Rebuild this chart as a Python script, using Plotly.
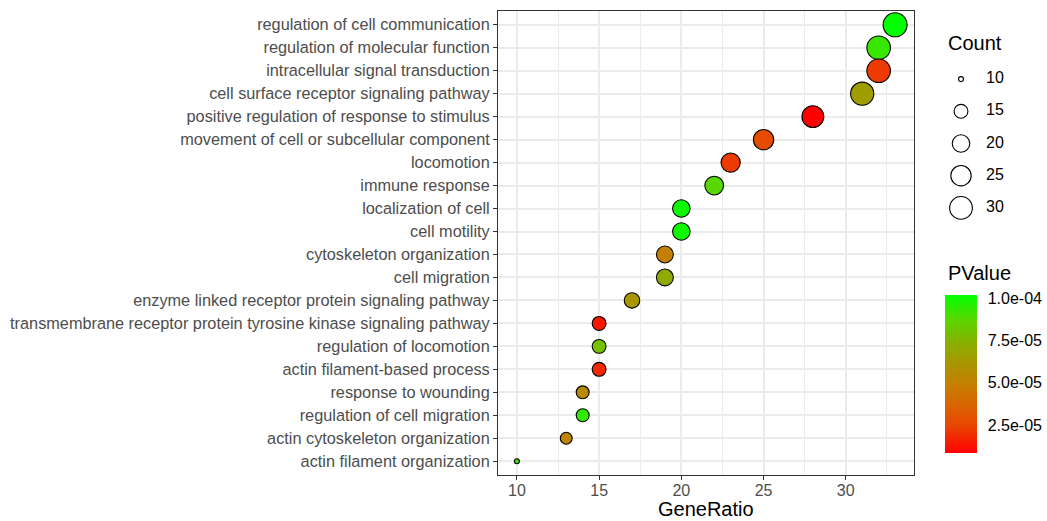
import numpy as np
import plotly.graph_objects as go

W, H = 1047, 521

# GO terms, listed from top row to bottom row
terms = [
    "regulation of cell communication",
    "regulation of molecular function",
    "intracellular signal transduction",
    "cell surface receptor signaling pathway",
    "positive regulation of response to stimulus",
    "movement of cell or subcellular component",
    "locomotion",
    "immune response",
    "localization of cell",
    "cell motility",
    "cytoskeleton organization",
    "cell migration",
    "enzyme linked receptor protein signaling pathway",
    "transmembrane receptor protein tyrosine kinase signaling pathway",
    "regulation of locomotion",
    "actin filament-based process",
    "response to wounding",
    "regulation of cell migration",
    "actin cytoskeleton organization",
    "actin filament organization",
]
gene_ratio = [33, 32, 32, 31, 28, 25, 23, 22, 20, 20, 19, 19, 17, 15, 15, 15, 14, 14, 13, 10]
count = [33, 32, 32, 31, 28, 25, 23, 22, 20, 20, 19, 19, 17, 15, 15, 15, 14, 14, 13, 10]
pvalue = [1.02e-4, 9.3e-5, 2.2e-5, 6.5e-5, 8.5e-6, 2.7e-5, 2.2e-5, 8.8e-5, 1.0e-4, 1.0e-4,
          4.9e-5, 7.1e-5, 6.2e-5, 1.4e-5, 8.0e-5, 1.8e-5, 5.5e-5, 9.5e-5, 5.2e-5, 9.3e-5]

x_ticks = [10, 15, 20, 25, 30]
count_breaks = [10, 15, 20, 25, 30]
p_breaks = [2.5e-5, 5.0e-5, 7.5e-5, 1.0e-4]
p_break_labels = ["2.5e-05", "5.0e-05", "7.5e-05", "1.0e-04"]

# low (red) -> high (green) gradient
colorscale = [
    [0.00, "rgb(255,0,0)"],
    [0.18, "rgb(232,72,0)"],
    [0.32, "rgb(214,104,0)"],
    [0.44, "rgb(196,128,0)"],
    [0.58, "rgb(166,152,0)"],
    [0.71, "rgb(132,178,0)"],
    [0.85, "rgb(88,216,0)"],
    [1.00, "rgb(0,255,0)"],
]

# ---- size scale: area-proportional, like ggplot's scale_size ----
c_min, c_max = min(count), max(count)


def dot_size(c):
    return 5.0 + 19.0 * np.sqrt((np.asarray(c, float) - c_min) / (c_max - c_min))


# panel geometry (pixels)
px_l, px_r, px_t, px_b = 498, 914, 11, 475

fig = go.Figure()

fig.add_trace(go.Scatter(
    x=gene_ratio, y=terms, mode="markers",
    marker=dict(
        size=dot_size(count), color=pvalue, colorscale=colorscale, opacity=1,
        cmin=min(pvalue), cmax=max(pvalue),
        line=dict(color="black", width=1.1),
        colorbar=dict(
            x=945 / W, xanchor="left", y=(H - 453) / H, yanchor="bottom",
            len=158, lenmode="pixels", thickness=32, thicknessmode="pixels",
            outlinewidth=0, tickvals=p_breaks, ticktext=p_break_labels,
            ticks="outside", ticklen=8, tickcolor="rgba(255,255,255,0)", tickwidth=1,
            tickfont=dict(size=16, color="black"), xpad=0, ypad=0,
        ),
    ),
    showlegend=False, hoverinfo="skip",
))

# Count size legend drawn on its own small axes
legend_idx = list(range(len(count_breaks)))
fig.add_trace(go.Scatter(
    x=[21] * len(count_breaks), y=legend_idx, mode="markers",
    marker=dict(size=dot_size(count_breaks), color="white", opacity=1,
                line=dict(color="black", width=1.1)),
    xaxis="x2", yaxis="y2", showlegend=False, hoverinfo="skip",
))
fig.add_trace(go.Scatter(
    x=[46] * len(count_breaks), y=legend_idx, mode="text",
    text=[str(v) for v in count_breaks], textposition="middle right",
    textfont=dict(size=16, color="black"),
    xaxis="x2", yaxis="y2", showlegend=False, hoverinfo="skip",
))

grid_col = "#EBEBEB"
fig.update_layout(
    width=W, height=H, margin=dict(l=0, r=0, t=0, b=0, autoexpand=False),
    paper_bgcolor="white", plot_bgcolor="white",
    font=dict(family="Liberation Sans, Arial, sans-serif", size=16, color="#4D4D4D"),
    xaxis=dict(
        domain=[px_l / W, px_r / W], range=[8.85, 34.15], automargin=False,
        tickvals=x_ticks, ticks="outside", ticklen=4, tickcolor="#333333", tickwidth=1,
        tickfont=dict(size=16, color="#4D4D4D"), ticklabelstandoff=-3,
        showgrid=True, gridcolor=grid_col, gridwidth=1.6,
        minor=dict(tickvals=[12.5, 17.5, 22.5, 27.5, 32.5], showgrid=True, gridcolor=grid_col, gridwidth=0.8),
        showline=True, linecolor="#333333", linewidth=1, mirror=True, zeroline=False,
        fixedrange=True,
    ),
    yaxis=dict(
        domain=[(H - px_b) / H, (H - px_t) / H], automargin=False,
        type="category", categoryorder="array", categoryarray=terms[::-1],
        range=[-0.6, len(terms) - 0.4],
        ticks="outside", ticklen=4, tickcolor="#333333", tickwidth=1,
        tickfont=dict(size=16.3, color="#4D4D4D"),
        showgrid=True, gridcolor=grid_col, gridwidth=1.6,
        showline=True, linecolor="#333333", linewidth=1, mirror=True, zeroline=False,
        fixedrange=True,
    ),
    xaxis2=dict(domain=[940 / W, 1040 / W], range=[0, 100], anchor="y2",
                visible=False, fixedrange=True),
    yaxis2=dict(domain=[(H - 224) / H, (H - 63) / H], range=[4.5, -0.5], anchor="x2",
                visible=False, fixedrange=True),
    annotations=[
        dict(text="GeneRatio", x=(px_l + px_r) / 2 / W, y=0, xref="paper", yref="paper",
             xanchor="center", yanchor="bottom", showarrow=False, borderpad=0,
             font=dict(size=20, color="black")),
        dict(text="Count", x=946 / W, y=(H - 43) / H, xref="paper", yref="paper",
             xanchor="left", yanchor="middle", showarrow=False,
             font=dict(size=20, color="black")),
        dict(text="PValue", x=946 / W, y=(H - 273) / H, xref="paper", yref="paper",
             xanchor="left", yanchor="middle", showarrow=False,
             font=dict(size=20, color="black")),
    ],
)

fig.write_html("out.html")
